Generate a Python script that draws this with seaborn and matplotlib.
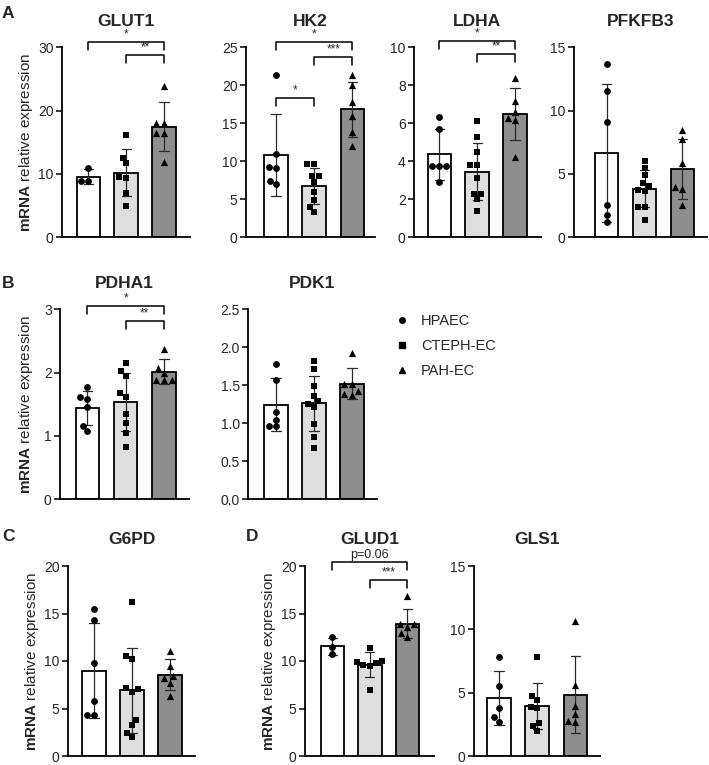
import numpy as np
import pandas as pd
import matplotlib
matplotlib.use("Agg")
import matplotlib.pyplot as plt
from matplotlib.lines import Line2D
from matplotlib.ticker import FormatStrFormatter
import seaborn as sns

# ---------------- data ----------------
groups = ["HPAEC", "CTEPH-EC", "PAH-EC"]
genes = ["GLUT1", "HK2", "LDHA", "PFKFB3", "PDHA1", "PDK1", "G6PD", "GLUD1", "GLS1"]

glut1_hpaec = [10.9, 8.9, 8.9]
glut1_cteph = [16.1, 12.6, 11.7, 9.5, 9.4, 7.0, 5.0]
glut1_pah = [23.9, 18.1, 18.1, 16.4, 16.4, 11.9]

hk2_hpaec = [21.4, 11.0, 9.1, 9.2, 7.0, 7.4]
hk2_cteph = [9.6, 9.6, 8.1, 8.1, 7.3, 6.0, 4.9, 4.0, 3.3]
hk2_pah = [21.3, 20.1, 17.8, 16.0, 13.8, 12.0]

ldha_hpaec = [6.35, 5.7, 3.75, 3.75, 3.75, 2.93]
ldha_cteph = [6.1, 5.3, 4.5, 3.8, 3.8, 3.1, 2.3, 2.3, 2.0, 1.4]
ldha_pah = [8.4, 7.2, 6.6, 6.3, 6.2, 4.25]

pfkfb3_hpaec = [13.66, 11.58, 9.08, 2.53, 1.79, 1.21]
pfkfb3_cteph = [6.03, 5.45, 4.92, 4.26, 4.05, 3.74, 3.66, 2.42, 2.37, 1.37]
pfkfb3_pah = [8.47, 7.74, 5.9, 3.95, 3.79, 2.53]

pdha1_hpaec = [1.77, 1.61, 1.58, 1.45, 1.16, 1.08]
pdha1_cteph = [2.16, 2.02, 1.95, 1.68, 1.62, 1.34, 1.2, 1.05, 0.83]
pdha1_pah = [2.38, 2.07, 2.0, 1.88, 1.88, 1.88]

pdk1_hpaec = [1.78, 1.57, 1.15, 1.05, 0.96, 0.96]
pdk1_cteph = [1.82, 1.71, 1.49, 1.36, 1.29, 1.26, 1.22, 0.99, 0.82, 0.67]
pdk1_pah = [1.93, 1.52, 1.52, 1.42, 1.37, 1.38]

g6pd_hpaec = [15.44, 14.3, 9.75, 5.79, 4.32, 4.32]
g6pd_cteph = [16.25, 10.56, 10.2, 7.12, 7.02, 6.77, 3.79, 3.26, 2.39, 1.96]
g6pd_pah = [11.1, 9.5, 8.4, 8.2, 7.7, 6.3]

glud1_hpaec = [12.5, 11.5, 10.7]
glud1_cteph = [11.4, 10.0, 9.9, 9.8, 9.6, 9.5, 7.0]
glud1_pah = [16.8, 13.9, 13.9, 13.6, 12.9, 12.5]

gls1_hpaec = [7.78, 5.54, 3.76, 3.1, 2.7]
gls1_cteph = [7.78, 4.7, 4.4, 3.9, 3.8, 2.6, 2.4, 2.0]
gls1_pah = [10.66, 5.6, 3.97, 3.3, 2.78, 2.7]

values = {
    "GLUT1": [glut1_hpaec, glut1_cteph, glut1_pah],
    "HK2": [hk2_hpaec, hk2_cteph, hk2_pah],
    "LDHA": [ldha_hpaec, ldha_cteph, ldha_pah],
    "PFKFB3": [pfkfb3_hpaec, pfkfb3_cteph, pfkfb3_pah],
    "PDHA1": [pdha1_hpaec, pdha1_cteph, pdha1_pah],
    "PDK1": [pdk1_hpaec, pdk1_cteph, pdk1_pah],
    "G6PD": [g6pd_hpaec, g6pd_cteph, g6pd_pah],
    "GLUD1": [glud1_hpaec, glud1_cteph, glud1_pah],
    "GLS1": [gls1_hpaec, gls1_cteph, gls1_pah],
}

# y-axis ranges (max, tick step)
y_axis = {
    "GLUT1": (30, 10), "HK2": (25, 5), "LDHA": (10, 2), "PFKFB3": (15, 5),
    "PDHA1": (3, 1), "PDK1": (2.5, 0.5), "G6PD": (20, 5), "GLUD1": (20, 5), "GLS1": (15, 5),
}

# significance annotations: (group i, group j, height, label)
sig = {
    "GLUT1": [(0, 2, 30.9, "*"), (1, 2, 28.8, "**")],
    "HK2": [(0, 2, 25.7, "*"), (1, 2, 23.7, "***"), (0, 1, 18.3, "*")],
    "LDHA": [(0, 2, 10.33, "*"), (1, 2, 9.63, "**")],
    "PDHA1": [(0, 2, 3.05, "*"), (1, 2, 2.82, "**")],
    "GLUD1": [(0, 2, 20.4, "p=0.06"), (1, 2, 18.5, "***")],
}

# ---------------- layout (pixels in the 709x765 figure) ----------------
W, H = 709, 765
rows = {"A": (47.3, 237.3), "B": (309.3, 499.3), "C": (566.0, 756.0)}
# gene: (row, y-axis x, first bar centre, last bar centre, x-axis end, has ylabel, ylabel right edge)
layout = {
    "GLUT1": ("A", 62, 88.3, 164, 190, True, 35),
    "HK2": ("A", 246, 276, 352.3, 375, False, None),
    "LDHA": ("A", 414, 439.3, 515, 540.7, False, None),
    "PFKFB3": ("A", 574, 606.7, 682.3, 707, False, None),
    "PDHA1": ("B", 60, 87.3, 164, 189.3, True, 35),
    "PDK1": ("B", 248, 276, 352, 376.7, False, None),
    "G6PD": ("C", 68, 94, 170, 195, True, 41),
    "GLUD1": ("C", 305, 332.3, 407.3, 434, True, 278),
    "GLS1": ("C", 474, 499, 575.3, 600, False, None),
}

sns.set_style("white")
plt.rcParams["font.family"] = ["Liberation Sans", "DejaVu Sans"]
plt.rcParams["mathtext.fontset"] = "custom"
plt.rcParams["mathtext.rm"] = "Liberation Sans"
plt.rcParams["mathtext.bf"] = "Liberation Sans:bold"

bar_colors = ["#ffffff", "#dedede", "#8e8e8e"]
markers = ["o", "s", "^"]
msizes = [4.9, 4.6, 5.2]

fig = plt.figure(figsize=(W / 100, H / 100), dpi=100)

for gene in genes:
    row, axx, b0, b2, xend, has_lab, lab_x = layout[gene]
    top, bot = rows[row]
    ax = fig.add_axes([axx / W, 1 - bot / H, (xend - axx) / W, (bot - top) / H])
    spacing = (b2 - b0) / 2.0

    recs = []
    for g, vals in zip(groups, values[gene]):
        for v in vals:
            recs.append((g, v))
    df = pd.DataFrame(recs, columns=["group", "value"])

    sns.barplot(data=df, x="group", y="value", hue="group", order=groups,
                hue_order=groups, palette=bar_colors, errorbar="sd",
                capsize=0.24, width=23.5 / spacing, edgecolor="black",
                linewidth=1.3, legend=False, ax=ax,
                err_kws={"color": "#2a2a2a", "linewidth": 0.9})
    for g, m, s in zip(groups, markers, msizes):
        sns.swarmplot(data=df[df["group"] == g], x="group", y="value",
                      order=groups, marker=m, color="black", size=s,
                      ax=ax, zorder=4, warn_thresh=1)

    ymax, ystep = y_axis[gene]
    ax.set_ylim(0, ymax)
    ax.set_xlim(-(b0 - axx) / spacing, 2 + (xend - b2) / spacing)
    ax.set_yticks(np.arange(0, ymax + ystep / 2, ystep))
    if gene == "PDK1":
        ax.yaxis.set_major_formatter(FormatStrFormatter("%.1f"))
    else:
        ax.yaxis.set_major_formatter(FormatStrFormatter("%d"))
    ax.set_xticks([])
    ax.set_xlabel("")
    sns.despine(ax=ax)
    for sp in ["left", "bottom"]:
        ax.spines[sp].set_linewidth(1.3)
        ax.spines[sp].set_color("black")
    ax.tick_params(axis="y", length=4, width=1.1, labelsize=10, pad=2,
                   color="black", left=True)
    if has_lab:
        ax.set_ylabel(r"$\mathbf{mRNA}$ relative expression", fontsize=11)
        ax.yaxis.set_label_coords((lab_x - axx) / (xend - axx), 0.5)
    else:
        ax.set_ylabel("")
    ax.set_title(gene, fontsize=12.5, fontweight="bold", pad=15.5)

    leg = ymax * 8.0 / 190.0
    for i, j, yv, lab in sig.get(gene, []):
        ax.plot([i, i, j, j], [yv - leg, yv, yv, yv - leg], color="black",
                lw=1.1, clip_on=False, zorder=6)
        ax.text((i + j) / 2, yv + ymax * 1.5 / 190.0, lab, ha="center",
                va="bottom", fontsize=9 if lab.startswith("p") else 8.5,
                clip_on=False)

# legend
handles = [Line2D([], [], marker=m, color="black", linestyle="", markersize=s)
           for m, s in zip(markers, [4.0, 3.8, 4.2])]
fig.legend(handles, groups, loc="upper left", bbox_to_anchor=(395 / W, 1 - 314 / H),
           frameon=False, fontsize=10.5, handlelength=1.0, handletextpad=0.8,
           labelspacing=0.75, borderaxespad=0, borderpad=0)

# panel letters
for lab, x, y in [("A", 2, 18), ("B", 2, 288), ("C", 2, 541), ("D", 246, 541)]:
    fig.text(x / W, 1 - y / H, lab, fontsize=12.5, fontweight="bold", va="baseline")

fig.savefig("out.png", dpi=100)
